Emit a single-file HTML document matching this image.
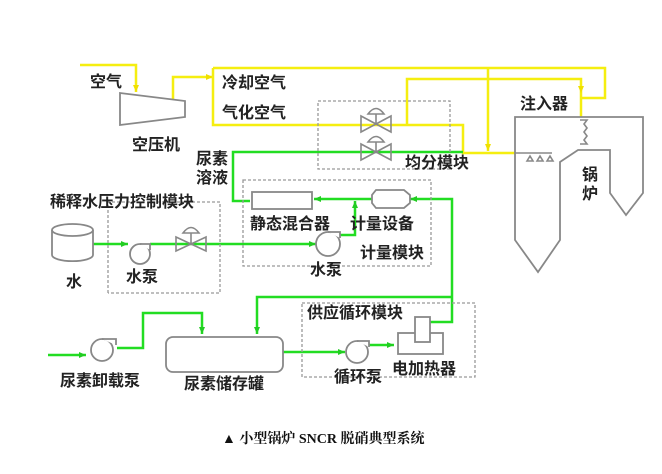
<!DOCTYPE html>
<html><head><meta charset="utf-8"><style>
html,body{margin:0;padding:0;background:#fff;width:662px;height:474px;overflow:hidden}
svg{display:block}
text{font-family:"Liberation Sans","Noto Sans CJK SC",sans-serif;font-weight:bold;font-size:16px;fill:#222}
</style></head><body>
<svg width="662" height="474" viewBox="0 0 662 474" xmlns="http://www.w3.org/2000/svg">
<defs>
<marker id="ay" markerWidth="8" markerHeight="8" refX="7" refY="4" orient="auto" markerUnits="userSpaceOnUse"><path d="M0,1 L7,4 L0,7z" fill="#f0e000"/></marker>
<marker id="ag" markerWidth="8" markerHeight="8" refX="7" refY="4" orient="auto" markerUnits="userSpaceOnUse"><path d="M0,1 L7,4 L0,7z" fill="#22cc22"/></marker>
</defs>
<g fill="none" stroke="#f5ee10" stroke-width="2.5">
<path d="M80,65 H136 V92" marker-end="url(#ay)"/>
<path d="M173,100 V77 H213" marker-end="url(#ay)"/>
<path d="M213,68 V125 H463 V153 H515"/>
<path d="M213,68 H605 V98 H581"/>
<path d="M407,125 V79 H581 V93" marker-end="url(#ay)"/>
<path d="M581,93 V117"/>
<path d="M488,68 V151" marker-end="url(#ay)"/>
</g>
<g fill="none" stroke="#22dd22" stroke-width="2.5">
<path d="M463,152 H233 V201 H250"/>
<path d="M93,244 H128" marker-end="url(#ag)"/>
<path d="M150,244 H316" marker-end="url(#ag)"/>
<path d="M340,235 H355 V201" marker-end="url(#ag)"/>
<path d="M372,199 H314" marker-end="url(#ag)"/>
<path d="M452,297 V199 H410" marker-end="url(#ag)"/>
<path d="M452,297 H257 V334" marker-end="url(#ag)"/>
<path d="M48,355 H86" marker-end="url(#ag)"/>
<path d="M117,348 H143 V313 H202 V334" marker-end="url(#ag)"/>
<path d="M283,352 H345" marker-end="url(#ag)"/>
<path d="M368,345 H394" marker-end="url(#ag)"/>
<path d="M430,322 H452 V297"/>
</g>
<g fill="none" stroke="#999" stroke-width="1.3" stroke-dasharray="3,2">
<rect x="318" y="101" width="132" height="68"/>
<rect x="243" y="180" width="188" height="86"/>
<path d="M108,293 V202 H220 V293 H108"/>
<rect x="302" y="303" width="173" height="74"/>
</g>
<g fill="#fff" stroke="#888" stroke-width="1.8">
<path d="M120,93 L185,101 L185,117 L120,125z"/>
<path d="M52,230 V255 A20,6 0 0 0 93,255 V230"/>
<ellipse cx="72.5" cy="230" rx="20.5" ry="6"/>
<circle cx="140" cy="254" r="10"/><path d="M140,244 H150 V250"/>
<circle cx="328" cy="244" r="12"/><path d="M328,232 H340 V238"/>
<circle cx="102" cy="350" r="11"/><path d="M102,339 H116 V345"/>
<circle cx="357" cy="352" r="11"/><path d="M357,341 H369 V347"/>
<rect x="252" y="192" width="60" height="17"/>
<path d="M376,190 H404 L410,195 V203 L404,208 H376 L372,203 V195z"/>
<rect x="166" y="337" width="117" height="35" rx="7"/>
<rect x="398" y="333" width="45" height="21"/>
<rect x="415" y="317" width="15" height="25"/>
<path d="M515,117 H643 V193 L626,215 L610,193 V150 H578 L560,162 V240 L538,272 L515,240z"/>
</g>
<g fill="none" stroke="#888" stroke-width="1.6">
<path d="M176,237 L206,251 V237 L176,251z M191,244 V233"/><path d="M183,233 Q191,222 199,233z"/>
<path d="M361,116 L391,132 V116 L361,132z M376,124 V114"/><path d="M368,114 Q376,103 384,114z"/>
<path d="M361,144 L391,160 V144 L361,160z M376,152 V142"/><path d="M368,142 Q376,131 384,142z"/>
<path d="M515,153 H552"/>
<path d="M527,161 l3,-5 l3,5z M537,161 l3,-5 l3,5z M547,161 l3,-5 l3,5z"/>
<path d="M580,120 h7 l-3,4 l3,4 l-3,4 l3,4 l-3,4 l3,4 h-7"/>
</g>
<text x="90" y="87">空气</text>
<text x="132" y="150">空压机</text>
<text x="222" y="88">冷却空气</text>
<text x="222" y="118">气化空气</text>
<text x="196" y="164">尿素</text>
<text x="196" y="183">溶液</text>
<text x="50" y="207">稀释水压力控制模块</text>
<text x="66" y="287">水</text>
<text x="126" y="282">水泵</text>
<text x="250" y="229">静态混合器</text>
<text x="350" y="229">计量设备</text>
<text x="360" y="258">计量模块</text>
<text x="310" y="275">水泵</text>
<text x="405" y="168">均分模块</text>
<text x="520" y="109">注入器</text>
<text x="582" y="180">锅</text>
<text x="582" y="199">炉</text>
<text x="307" y="318">供应循环模块</text>
<text x="60" y="386">尿素卸载泵</text>
<text x="184" y="389">尿素储存罐</text>
<text x="334" y="382">循环泵</text>
<text x="392" y="374">电加热器</text>
<text x="222" y="443" style="font-family:'Liberation Serif','Noto Serif CJK SC',serif;font-weight:bold;font-size:14px;fill:#111">▲ 小型锅炉 SNCR 脱硝典型系统</text>
</svg>
</body></html>
